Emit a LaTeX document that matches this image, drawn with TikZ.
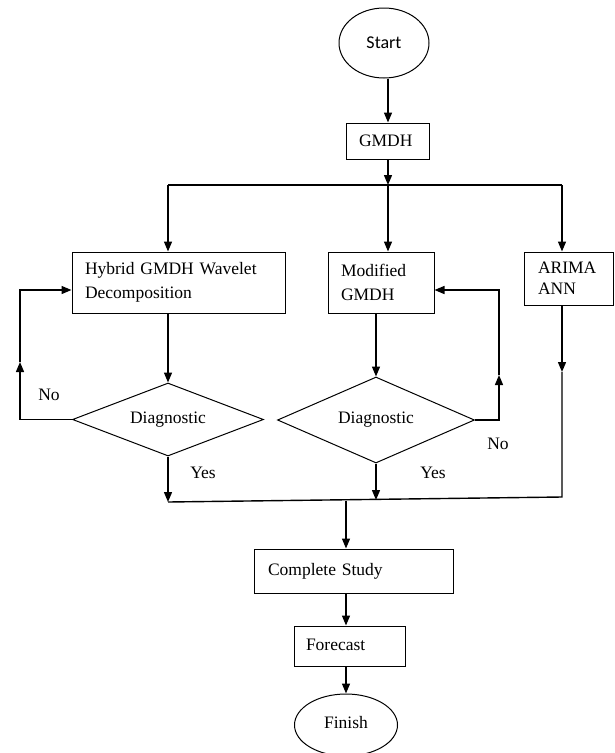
\documentclass[tikz,border=0pt]{standalone}
\usepackage{fontspec}
\setmainfont{Liberation Serif}
\newfontfamily\carlitofont{Carlito}
\usetikzlibrary{shapes.geometric,arrows.meta}
\begin{document}
\begin{tikzpicture}[x=1pt,y=-1pt,
  font=\fontsize{17.5}{24}\selectfont,
  every node/.style={inner sep=0pt},
  ln/.style={line width=1.4pt,draw=black},
  arr/.style={ln,-{Triangle[length=10pt,width=8pt]}},
  box/.style={draw,line width=1pt,rectangle,inner xsep=13pt,align=left},
  oval/.style={draw,line width=1pt,ellipse},
  dia/.style={draw,line width=1pt,diamond,aspect=2.6}]
\useasboundingbox (0,0) rectangle (614,753);

\node[oval,minimum width=90pt,minimum height=70pt] (start) at (384,43) {\carlitofont\fontsize{18}{22}\selectfont Start};
\node[box,text width=57pt,minimum height=36pt] (gmdh) at (387.5,141) {GMDH};
\node[box,text width=187pt,minimum height=61pt] (hyb) at (178.5,282.5) {Hybrid GMDH Wavelet\\Decomposition};
\node[box,text width=80pt,minimum height=61pt] (mod) at (381,282.5) {Modified\\GMDH};
\node[box,inner xsep=14pt,text width=61pt,minimum height=53pt,font=\fontsize{17.5}{21}\selectfont] (arima) at (568.5,278.5) {ARIMA\\ANN};
\node[dia,minimum width=191pt,minimum height=73pt] (d1) at (168,419.5) {Diagnostic};
\node[dia,minimum width=197pt,minimum height=86pt] (d2) at (376,420) {\raisebox{5pt}{Diagnostic}};
\node[box,inner xsep=14pt,text width=171pt,minimum height=44pt] (cs) at (353.5,571) {\raisebox{4pt}{Complete Study}};
\node[box,inner xsep=12pt,text width=87pt,minimum height=40pt] (fc) at (349.5,646) {\raisebox{2pt}{Forecast}};
\node[oval,minimum width=103pt,minimum height=62pt] (fin) at (346,725) {\raisebox{5pt}{Finish}};

% top distribution
\coordinate (jt) at (388,185);
\coordinate (jl) at (168,185);
\coordinate (jr) at (562,185);
\draw[arr] (start.south -| jt) -- (gmdh.north -| jt);
\draw[arr] (gmdh.south -| jt) -- (jt);
\draw[ln] (jl) -- (jr);
\draw[arr] (jl) -- (jl |- hyb.north);
\draw[arr] (jt) -- (jt |- mod.north);
\draw[arr] (jr) -- (jr |- arima.north);

% left branch
\draw[arr] (d1.north |- hyb.south) -- (d1.north);
\coordinate (nl1) at (20,419.5);
\coordinate (nl2) at (20,362);
\coordinate (nl3) at (20,290);
\draw[arr] (d1.west) -- (nl1) -- (nl2);
\draw[arr] (nl2) -- (nl3) -- (nl3 -| hyb.west);
\node (nol) at (49,395) {No};

% middle branch
\draw[arr] (d2.north |- mod.south) -- (d2.north);
\coordinate (nr1) at (499,420);
\coordinate (nr2) at (499,375);
\coordinate (nr3) at (499,290);
\draw[arr] (d2.east) -- (nr1) -- (nr2);
\draw[arr] (nr2) -- (nr3) -- (nr3 -| mod.east);
\node (nor) at (498,444) {No};

% bottom merge
\coordinate (bl) at (168,502);
\coordinate (br) at (562,497);
\coordinate (bm) at (376,500);
\coordinate (bc) at (346,500.5);
\draw[arr] (d1.south) -- (bl);
\draw[arr] (d2.south) -- (bm);
\node (yesl) at (203,473) {Yes};
\node (yesr) at (433,473) {Yes};
\coordinate (ar2) at (562,372);
\draw[arr] (arima.south -| ar2) -- (ar2);
\draw[ln] (ar2) -- (br) -- (bl);

\draw[arr] (bc) -- (bc |- cs.north);
\draw[arr] (cs.south -| bc) -- (fc.north -| bc);
\draw[arr] (fc.south -| bc) -- (fin.north);
\end{tikzpicture}
\end{document}
